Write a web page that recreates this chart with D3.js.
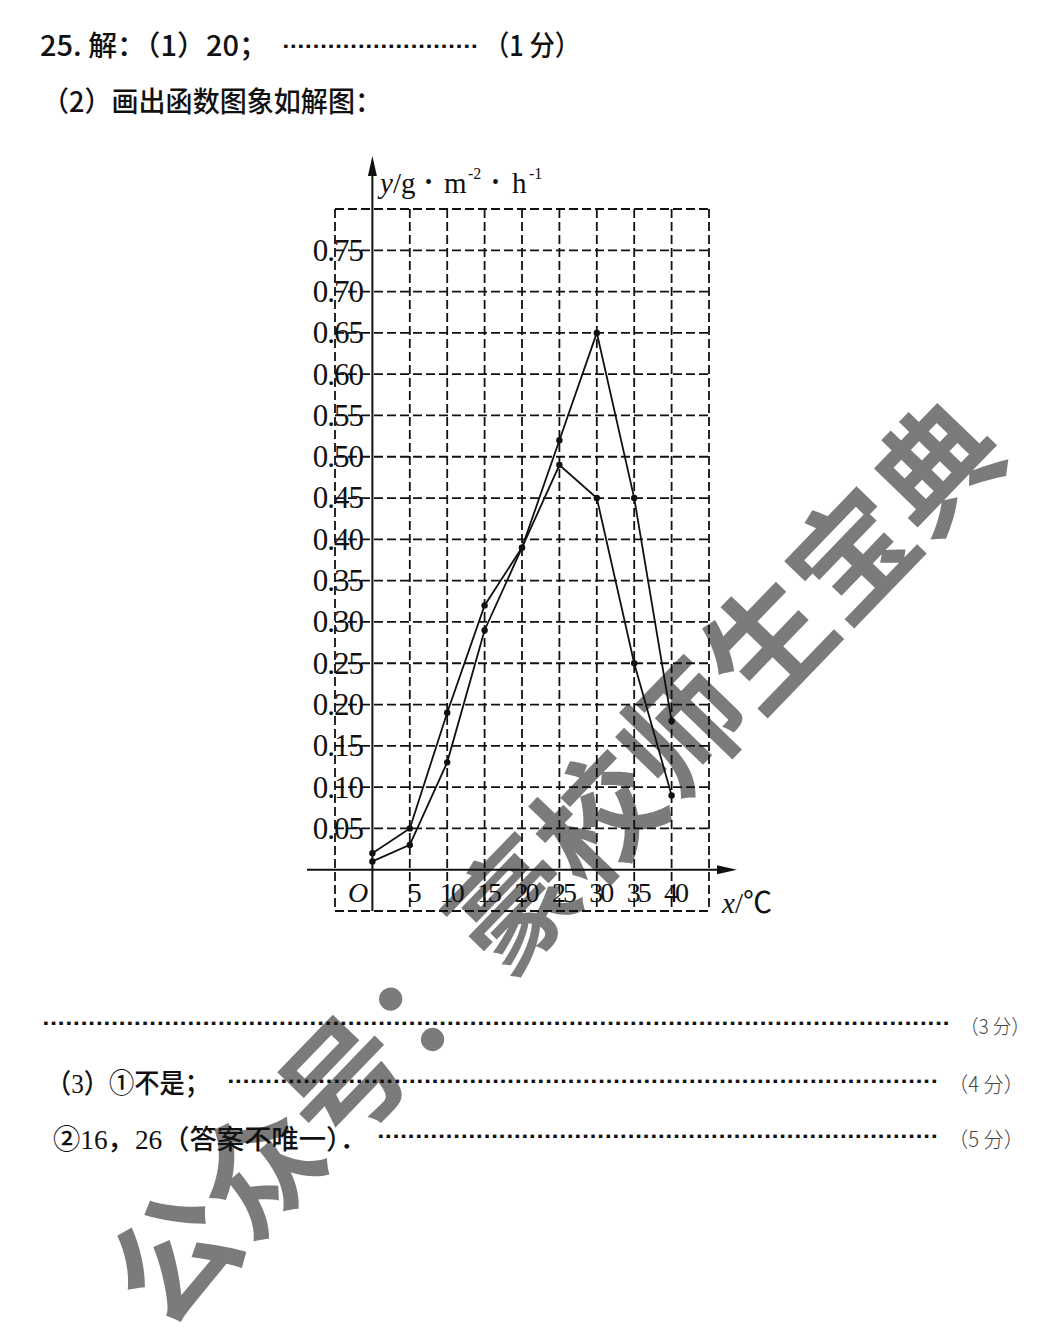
<!DOCTYPE html>
<html><head><meta charset="utf-8">
<script src="https://cdn.jsdelivr.net/npm/d3@7"></script>
<style>body{margin:0;background:#fff}</style>
</head><body><svg id="c" width="1037" height="1343"></svg>
<script>
// ---- data ----
const temperatures = [0, 5, 10, 15, 20, 25, 30, 35, 40];
const seriesA = [0.02, 0.05, 0.19, 0.32, 0.39, 0.49, 0.45, 0.25, 0.09];
const seriesB = [0.01, 0.03, 0.13, 0.29, 0.39, 0.52, 0.65, 0.45, 0.18];
const xTickLabels = [5, 10, 15, 20, 25, 30, 35, 40];
const yTickLabels = [0.05, 0.10, 0.15, 0.20, 0.25, 0.30, 0.35, 0.40, 0.45, 0.50, 0.55, 0.60, 0.65, 0.70, 0.75];
const xGridValues = [-5, 5, 10, 15, 20, 25, 30, 35, 40, 45];
const yGridValues = [-0.05, 0.05, 0.10, 0.15, 0.20, 0.25, 0.30, 0.35, 0.40, 0.45, 0.50, 0.55, 0.60, 0.65, 0.70, 0.75, 0.80];
const watermark = "公众号：豪校师生宝典";

const svg = d3.select("#c");
const CJK = "'Noto Sans CJK SC', sans-serif";
const SERIF = "'Liberation Serif', 'Noto Sans CJK SC', serif";

// watermark (under everything)
svg.append("text")
  .attr("transform", "translate(550,856) rotate(-46)")
  .attr("text-anchor", "middle").attr("dominant-baseline", "central")
  .attr("font-family", CJK).attr("font-weight", 700).attr("font-size", 122)
  .attr("fill", "#7b7b7b").text(watermark);

// scales
const x = d3.scaleLinear().domain([-5, 45]).range([335, 709]);
const y = d3.scaleLinear().domain([-0.05, 0.80]).range([911, 209]);

const ink = "#111";
const grid = svg.append("g").attr("stroke", ink).attr("stroke-width", 1.8).attr("stroke-dasharray", "9,4").attr("fill", "none");
grid.selectAll("line.v").data(xGridValues).join("line").attr("class", "v")
  .attr("x1", d => x(d)).attr("x2", d => x(d)).attr("y1", y(0.80)).attr("y2", y(-0.05));
grid.selectAll("line.h").data(yGridValues).join("line").attr("class", "h")
  .attr("y1", d => y(d)).attr("y2", d => y(d)).attr("x1", x(-5)).attr("x2", x(45));

// axes lines with arrows
const x0 = x(0), y0 = y(0);
svg.append("line").attr("x1", x0).attr("x2", x0).attr("y1", y(-0.05)).attr("y2", 162).attr("stroke", ink).attr("stroke-width", 2);
svg.append("path").attr("d", `M${x0},156 L${x0-4.5},176 L${x0+4.5},176 Z`).attr("fill", ink);
svg.append("line").attr("x1", 307).attr("x2", 730).attr("y1", y0).attr("y2", y0).attr("stroke", ink).attr("stroke-width", 2);
svg.append("path").attr("d", `M737,${y0} L717,${y0-4.5} L717,${y0+4.5} Z`).attr("fill", ink);

// tick labels through d3 axes
const yAxis = svg.append("g").attr("transform", "translate(363,0)")
  .call(d3.axisLeft(y).tickValues(yTickLabels).tickFormat(d3.format(".2f")).tickSize(0).tickPadding(0));
yAxis.select(".domain").remove();
yAxis.selectAll("text").attr("font-family", SERIF).attr("font-size", 31).attr("fill", ink).attr("letter-spacing", -1);

const xAxis = svg.append("g").attr("transform", "translate(3,882)")
  .call(d3.axisBottom(x).tickValues(xTickLabels).tickSize(0).tickPadding(0));
xAxis.select(".domain").remove();
xAxis.selectAll("text").attr("font-family", SERIF).attr("font-size", 28).attr("fill", ink).attr("letter-spacing", -3);

svg.append("text").attr("x", 358).attr("y", 902).attr("text-anchor", "middle")
  .attr("font-family", SERIF).attr("font-style", "italic").attr("font-size", 28).attr("fill", ink).text("O");

// axis titles
const yt = svg.append("text").attr("y", 193).attr("font-family", SERIF).attr("font-size", 29).attr("fill", ink);
yt.append("tspan").attr("x", 380).attr("font-style", "italic").text("y");
yt.append("tspan").attr("x", 393).text("/g");
yt.append("tspan").attr("x", 425).attr("font-size", 20).attr("dy", -4).text("•");
yt.append("tspan").attr("x", 444).attr("dy", 4).text("m");
yt.append("tspan").attr("x", 468).attr("font-size", 16).attr("dy", -14).text("-2");
yt.append("tspan").attr("x", 492).attr("font-size", 20).attr("dy", 10).text("•");
yt.append("tspan").attr("x", 512).attr("dy", 4).text("h");
yt.append("tspan").attr("x", 529).attr("font-size", 16).attr("dy", -14).text("-1");

const xt = svg.append("text").attr("x", 722).attr("y", 913).attr("font-family", SERIF).attr("font-size", 29).attr("fill", ink);
xt.append("tspan").attr("font-style", "italic").text("x");
xt.append("tspan").text("/℃");

// series lines and points
const line = d3.line().x(d => x(d[0])).y(d => y(d[1]));
[seriesA, seriesB].forEach(s => {
  const pts = temperatures.map((t, i) => [t, s[i]]);
  svg.append("path").attr("d", line(pts)).attr("fill", "none").attr("stroke", ink).attr("stroke-width", 1.8);
  svg.append("g").selectAll("circle").data(pts).join("circle")
    .attr("cx", d => x(d[0])).attr("cy", d => y(d[1])).attr("r", 3.2).attr("fill", ink);
});

// text lines
function txt(str, xx, yy, opts) {
  const t = svg.append("text").attr("x", xx).attr("y", yy)
    .attr("font-family", opts.family || CJK).attr("font-size", opts.size || 28)
    .attr("font-weight", opts.weight || 400).attr("fill", opts.fill || ink).text(str);
  if (opts.len) t.attr("textLength", opts.len).attr("lengthAdjust", "spacingAndGlyphs");
  return t;
}
function leader(x1, x2, yy) {
  const n = Math.round((x2 - x1) / 7.6);
  txt("·".repeat(n), x1, yy, {family: "'DejaVu Sans', sans-serif", size: 18, weight: 700, len: x2 - x1});
}

txt("25. 解：（1）20；", 40, 56, {size: 28, weight: 500, len: 228});
leader(282, 478, 53);
txt("（1 分）", 484, 56, {size: 28, weight: 500, len: 96});
txt("（2）画出函数图象如解图：", 42, 112, {size: 28, weight: 500, len: 340});

leader(42, 950, 1030);
txt("（3 分）", 960, 1034, {size: 20, weight: 300, fill: "#444", len: 70});

txt("（3）①不是；", 46, 1093, {family: SERIF, size: 27, weight: 500, len: 164});
leader(227, 938, 1088);
txt("（4 分）", 948, 1092, {size: 21, weight: 300, fill: "#444", len: 76});

txt("②16，26（答案不唯一）．", 53, 1149, {family: SERIF, size: 27, weight: 500, len: 314});
leader(377, 938, 1143);
txt("（5 分）", 948, 1147, {size: 21, weight: 300, fill: "#444", len: 76});
</script>
</body></html>
